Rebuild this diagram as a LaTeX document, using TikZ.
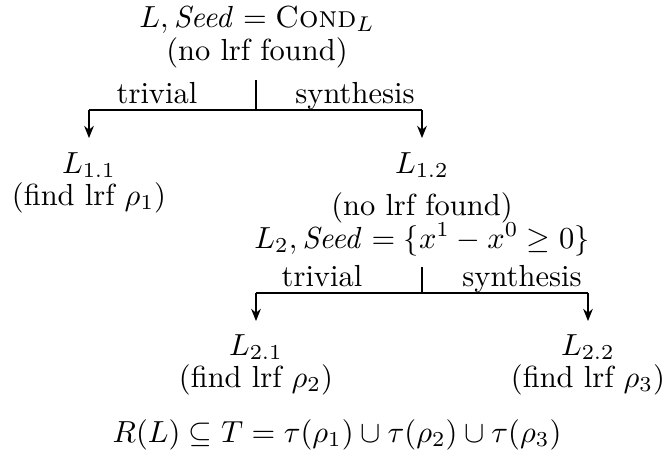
\documentclass[tikz,border=0pt]{standalone}
\usetikzlibrary{arrows.meta}
\begin{document}
\begin{tikzpicture}[x={(0.328pt,0)}, y={(0,-0.328pt)},
  txt/.style={inner sep=0pt, anchor=base},
  conn/.style={line width=0.4pt},
  arr/.style={conn, -{Stealth[length=4pt,width=3.2pt]}}]
\useasboundingbox (0,0) rectangle (665,463);
% top
\node[txt] (top1) at (257,27) {$L, \mathit{Seed}=\textsc{Cond}_L$};
\node[txt] (top2) at (257,60) {(no lrf found)};
\coordinate (f1) at (256,80);
\coordinate (j1) at (256,110);
\coordinate (l1) at (89,110);
\coordinate (r1) at (422,110);
\coordinate (lt1) at (89,138);
\coordinate (rt1) at (422,138);
\draw[conn] (f1) -- (j1);
\draw[conn] (l1) -- (r1);
\draw[arr] (l1) -- (lt1);
\draw[arr] (r1) -- (rt1);
\node[txt] (triv1) at (157,103) {trivial};
\node[txt] (syn1) at (355,103) {synthesis};
% level 1
\node[txt] (a1) at (89,173) {$L_{1.1}$};
\node[txt] (a2) at (89,205) {(find lrf $\rho_1$)};
\node[txt] (b1) at (422,173) {$L_{1.2}$};
\node[txt] (b2) at (422,215) {(no lrf found)};
\node[txt] (b3) at (422,248) {$L_2, \mathit{Seed}=\{x^1-x^0\geq 0\}$};
\coordinate (f2) at (422,267);
\coordinate (j2) at (422,293);
\coordinate (l2) at (256,293);
\coordinate (r2) at (588,293);
\coordinate (lt2) at (256,321);
\coordinate (rt2) at (588,321);
\draw[conn] (f2) -- (j2);
\draw[conn] (l2) -- (r2);
\draw[arr] (l2) -- (lt2);
\draw[arr] (r2) -- (rt2);
\node[txt] (triv2) at (322,286) {trivial};
\node[txt] (syn2) at (522,286) {synthesis};
% level 2
\node[txt] (c1) at (256,355) {$L_{2.1}$};
\node[txt] (c2) at (256,387) {(find lrf $\rho_2$)};
\node[txt] (d1) at (588,355) {$L_{2.2}$};
\node[txt] (d2) at (588,387) {(find lrf $\rho_3$)};
\node[txt] (res) at (337,442) {$R(L)\subseteq T=\tau(\rho_1)\cup\tau(\rho_2)\cup\tau(\rho_3)$};
\end{tikzpicture}
\end{document}
